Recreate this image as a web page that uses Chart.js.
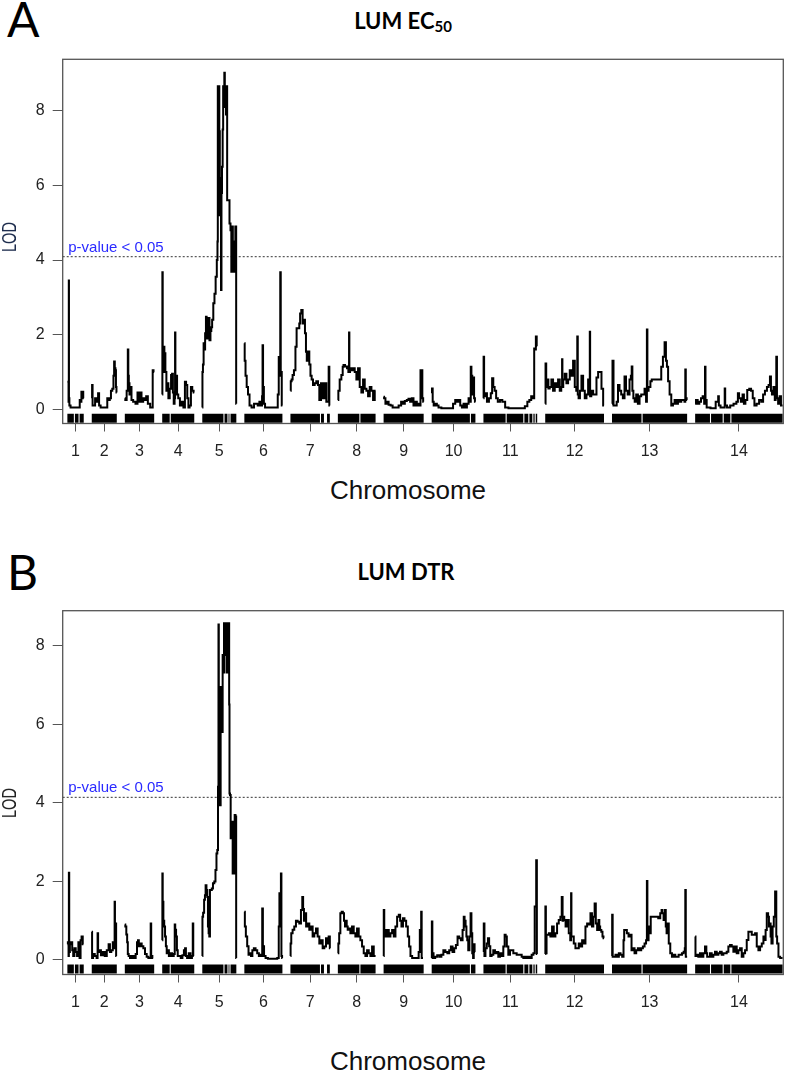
<!DOCTYPE html>
<html>
<head>
<meta charset="utf-8">
<title>LUM EC50 / LUM DTR LOD scans</title>
<script src="https://cdn.jsdelivr.net/npm/chart.js"></script>
<style>
  body { margin: 0; background: #fff; }
  #page { position: relative; width: 789px; height: 1072px; overflow: hidden; font-family: "Liberation Sans", Arial, sans-serif; color: #111; }
  .plot { position: absolute; left: 0; }
  .letter { position: absolute; font-family: Lato, "Open Sans", sans-serif; font-size: 48px; line-height: 1; color: #000; }
  .title { position: absolute; width: 240px; text-align: center; font-family: Lato, "Open Sans", sans-serif; font-weight: bold; font-size: 22px; line-height: 1; white-space: nowrap; color: #000; }
  .title sub { font-size: 15px; line-height: 0; vertical-align: -3px; }
  .xlab { position: absolute; width: 240px; text-align: center; font-size: 26px; line-height: 1; color: #111; }
  .ylab { position: absolute; font-size: 20px; line-height: 1; white-space: nowrap; transform: translate(-50%, -50%) rotate(-90deg) scaleX(0.73); }
</style>
</head>
<body>
<div id="page">
  <div class="letter" style="left:7px; top:-5px;">A</div>
  <div class="title" style="left:283px; top:10px;">LUM EC<sub>50</sub></div>
  <div class="plot" style="top:0;"><canvas id="chartA" width="789" height="470"></canvas></div>
  <div class="ylab" style="left:9px; top:237px; color:#1c2b4c;">LOD</div>
  <div class="xlab" style="left:288px; top:477px;">Chromosome</div>

  <div class="letter" style="left:7px; top:548px;">B</div>
  <div class="title" style="left:286px; top:561px;">LUM DTR</div>
  <div class="plot" style="top:540px;"><canvas id="chartB" width="789" height="480"></canvas></div>
  <div class="ylab" style="left:9px; top:803px; color:#222;">LOD</div>
  <div class="xlab" style="left:288px; top:1048px;">Chromosome</div>
</div>

<script>
// chromosomes and their lengths (cM), gap between them on the axis
const chromosomes = ['1', '2', '3', '4', '5', '6', '7', '8', '9', '10', '11', '12', '13', '14'];
const chrLengths = [49, 75, 88, 96, 102, 114, 118, 113, 120, 131, 161, 176, 225, 262];
const chrGap = 24;
const yTickValues = [0, 2, 4, 6, 8];

// 5% genome-wide thresholds
const ec50Threshold = 4.09;
const dtrThreshold = 4.14;

// places along each chromosome where the marker rug has a hole (cM)
const rugGaps = [[21, 35], [], [], [24], [65, 77, 83], [], [90, 102, 108], [66], [], [116], [68, 121, 136, 148, 155], [], [90], [46, 84, 107]];

// LOD profile, LUM EC50: [position in chromosome (cM), LOD] per chromosome
const ec50Lod = [
  [[0,0.74],[3,0.74],[4,0.2],[4.5,3.45],[5,0.3],[7,0.1],[12,0.05],[36,0.05],[38,0.25],[41,0.2],[43,0.47],[46,0.47],[49,0.3]],
  [[0,0.3],[2,0.65],[3,0.1],[8,0.1],[12,0.3],[17,0.2],[21,0.43],[23,0.1],[30,0.05],[45,0.05],[48,0.3],[52,0.25],[56,0.3],[59,0.5],[64,0.55],[66,0.9],[68,1.28],[70,1.1],[72,1.05],[73,0.6],[75,0.45]],
  [[0,0.3],[3,0.25],[8,0.5],[10,1.6],[11,0.9],[13,0.7],[15,0.4],[18,0.6],[22,0.25],[28,0.2],[36,0.15],[40,0.45],[43,0.2],[48,0.45],[52,0.2],[58,0.3],[62,0.25],[66,0.35],[72,0.15],[80,0.05],[83,0.05],[84,1.05],[88,1.0]],
  [[0,0.4],[1,3.67],[2,1.0],[5,1.68],[8,1.5],[11,1.0],[14,0.5],[17,0.7],[20,0.3],[25,0.55],[28,0.92],[31,0.95],[33,0.45],[36,0.15],[38,0.3],[39,2.06],[40,0.6],[43,0.9],[46,0.4],[50,0.3],[56,0.1],[61,0.2],[66,0.05],[70,0.74],[73,0.65],[77,0.3],[80,0.05],[84,0.1],[88,0.6],[92,0.5],[96,0.45]],
  [[0,0.05],[1,1.0],[3,1.2],[5,1.77],[7,1.6],[10,2.04],[12,2.48],[14,2.3],[15,1.9],[18,2.2],[20,2.45],[23,1.85],[26,2.1],[28,2.2],[31,2.4],[35,2.84],[38,3.1],[42,3.55],[45,4.0],[46,4.5],[47,8.66],[49,7.0],[50,8.66],[52,7.45],[53,5.2],[55,6.2],[57,3.2],[58,5.8],[60,6.5],[62,7.5],[63,8.66],[65,8.3],[67,9.02],[68,8.1],[70,8.66],[72,7.9],[74,8.66],[75,5.6],[80,5.6],[83,4.98],[86,4.8],[88,3.69],[90,4.9],[93,4.5],[95,3.69],[98,3.69],[100,4.9],[101,4.9],[102,0.15]],
  [[0,1.77],[2,1.3],[5,0.9],[9,0.6],[13,0.4],[18,0.1],[25,0.05],[33,0.15],[38,0.15],[42,0.1],[48,0.2],[52,0.1],[54,0.35],[55,1.72],[57,0.6],[60,0.15],[64,0.05],[90,0.05],[98,0.05],[102,0.4],[104,1.4],[107,0.9],[108,3.67],[110,1.0],[114,0.1]],
  [[0,0.5],[2,0.75],[5,0.8],[8,0.92],[13,1.05],[17,1.68],[20,2.17],[25,2.17],[28,2.3],[30,2.57],[35,2.66],[38,2.3],[42,2.4],[45,2.04],[48,1.54],[50,1.3],[55,1.55],[58,1.2],[62,0.9],[65,0.8],[70,0.65],[75,0.7],[80,0.75],[85,0.65],[88,0.25],[95,0.7],[100,0.3],[105,0.7],[110,0.2],[114,0.2],[115,1.14],[118,0.1]],
  [[0,0.25],[3,0.5],[8,0.8],[13,0.92],[16,1.14],[18,1.19],[25,1.15],[30,1.1],[33,1.0],[34,2.06],[35,1.0],[38,1.1],[43,1.05],[48,1.1],[53,1.0],[58,0.8],[63,1.1],[68,0.6],[73,0.45],[78,0.8],[83,0.55],[88,0.5],[93,0.35],[98,0.6],[103,0.5],[108,0.25],[113,0.5]],
  [[0,0.34],[3,0.3],[8,0.15],[12,0.2],[18,0.12],[24,0.1],[30,0.05],[40,0.05],[50,0.1],[55,0.2],[60,0.15],[67,0.22],[72,0.25],[77,0.28],[82,0.2],[87,0.3],[92,0.1],[97,0.2],[102,0.1],[107,0.15],[110,0.1],[111,1.05],[115,1.05],[117,0.3],[120,0.2]],
  [[0,0.43],[2,0.56],[4,0.2],[8,0.1],[13,0.15],[18,0.1],[23,0.05],[35,0.03],[60,0.03],[68,0.15],[73,0.25],[78,0.2],[83,0.25],[88,0.1],[93,0.05],[98,0.15],[103,0.05],[108,0.15],[113,0.3],[116,0.2],[118,1.14],[120,0.9],[123,0.4],[126,0.85],[128,0.3],[131,0.2]],
  [[0,0.3],[1,1.41],[3,0.35],[8,0.43],[13,0.2],[20,0.3],[24,0.43],[28,0.83],[31,0.6],[36,0.5],[40,0.3],[46,0.2],[53,0.25],[60,0.2],[70,0.05],[80,0.03],[120,0.03],[128,0.08],[135,0.2],[140,0.25],[146,0.35],[151,0.3],[153,1.63],[156,1.6],[158,1.95],[161,1.7]],
  [[0,0.15],[2,1.23],[4,0.6],[8,0.8],[11,0.56],[16,0.6],[21,0.8],[26,0.5],[31,0.7],[36,0.6],[41,0.8],[46,0.5],[50,0.6],[51,1.34],[52,0.6],[56,0.8],[61,0.95],[66,0.7],[71,0.8],[76,1.05],[81,0.9],[86,1.3],[91,0.6],[95,0.5],[97,1.95],[98,0.4],[102,0.3],[106,0.5],[111,0.9],[116,0.5],[121,0.3],[126,0.4],[131,0.8],[133,0.4],[134,2.08],[135,0.35],[141,0.5],[146,0.4],[151,0.4],[156,0.85],[161,1.0],[166,1.0],[171,0.55],[176,0.1]],
  [[0,0.15],[3,1.3],[6,0.1],[12,0.1],[16,0.2],[20,0.65],[25,0.5],[30,0.4],[35,0.3],[40,0.88],[44,0.5],[50,0.4],[55,0.8],[58,0.9],[60,1.15],[62,0.5],[66,0.3],[70,0.2],[75,0.4],[80,0.15],[85,0.35],[90,0.4],[95,0.4],[100,0.55],[104,0.2],[105,2.14],[107,0.5],[112,0.6],[118,0.75],[120,0.8],[125,0.8],[135,0.8],[145,0.8],[150,1.14],[155,1.41],[160,1.8],[163,1.3],[166,1.14],[170,0.75],[175,0.4],[180,0.1],[185,0.15],[190,0.25],[195,0.15],[200,0.25],[205,0.2],[210,0.25],[215,0.25],[219,0.2],[220,1.07],[222,0.3],[225,0.25]],
  [[0,0.15],[5,0.25],[10,0.15],[15,0.2],[20,0.3],[25,0.35],[29,0.15],[30,1.14],[32,0.25],[37,0.05],[55,0.03],[68,0.2],[70,0.35],[72,0.1],[80,0.05],[88,0.05],[89,0.56],[91,0.1],[100,0.05],[110,0.1],[120,0.15],[127,0.2],[129,0.43],[134,0.3],[140,0.2],[144,0.4],[148,0.15],[153,0.25],[159,0.52],[165,0.55],[170,0.5],[175,0.3],[180,0.1],[188,0.15],[195,0.25],[201,0.2],[206,0.4],[212,0.5],[218,0.6],[222,0.65],[226,0.88],[228,0.5],[232,0.4],[237,0.6],[240,0.25],[242,0.3],[244,1.41],[246,0.3],[251,0.15],[255,0.35],[259,0.1],[262,0.1]]
];

// LOD profile, LUM DTR
const dtrLod = [
  [[0,0.4],[3,0.45],[4,0.1],[5,2.22],[6,0.2],[9,0.4],[13,0.45],[16,0.25],[19,0.1],[23,0.3],[27,0.2],[31,0.1],[35,0.45],[38,0.05],[41,0.5],[44,0.6],[48,0.4]],
  [[0,0.72],[2,0.05],[6,0.15],[12,0.1],[17,0.05],[18,0.68],[20,0.2],[25,0.25],[30,0.12],[36,0.2],[42,0.1],[48,0.25],[53,0.4],[56,0.2],[61,0.25],[65,0.45],[68,0.3],[69,1.48],[70,0.9],[72,0.93],[74,0.1]],
  [[0,0.9],[3,0.85],[6,0.65],[8,0.45],[10,0.15],[13,0.1],[18,0.05],[25,0.1],[30,0.05],[35,0.15],[38,0.45],[41,0.5],[43,0.35],[48,0.42],[53,0.35],[58,0.3],[63,0.15],[68,0.08],[73,0.05],[77,0.05],[78,0.93],[80,0.1],[85,0.05]],
  [[0,0.5],[1,2.2],[2,1.48],[5,1.0],[7,0.85],[10,0.6],[12,0.35],[15,0.17],[18,0.25],[22,0.1],[27,0.17],[32,0.1],[37,0.15],[38,0.9],[40,0.77],[43,0.6],[45,0.25],[48,0.1],[53,0.1],[58,0.05],[63,0.12],[67,0.25],[70,0.3],[72,0.1],[77,0.05],[82,0.17],[87,0.05],[91,0.1],[92,0.93],[94,0.1]],
  [[0,0.1],[1,1.1],[4,1.2],[7,1.53],[9,1.65],[11,1.9],[14,1.78],[16,1.6],[18,0.85],[20,0.68],[22,0.6],[24,1.78],[27,1.78],[30,1.82],[34,1.95],[38,2.0],[41,2.29],[44,2.71],[46,2.8],[48,4.41],[49,8.54],[50,6.0],[52,4.2],[54,3.94],[56,6.95],[58,6.6],[60,5.8],[62,7.76],[64,7.32],[66,8.57],[70,8.57],[71,7.76],[74,7.32],[76,8.57],[80,8.57],[81,6.5],[82,4.24],[84,4.2],[86,3.1],[88,3.52],[90,3.52],[92,2.2],[96,2.2],[98,3.69],[101,3.65],[102,0.05]],
  [[0,1.23],[3,0.85],[6,0.6],[11,0.35],[14,0.13],[18,0.17],[22,0.1],[26,0.25],[31,0.3],[36,0.25],[41,0.17],[46,0.1],[51,0.13],[53,0.1],[54,1.31],[57,0.35],[61,0.1],[66,0.05],[75,0.03],[95,0.03],[102,0.05],[104,0.85],[106,1.7],[109,0.9],[110,2.2],[112,0.1],[114,0.05]],
  [[0,0.1],[1,0.42],[4,0.68],[9,0.77],[14,0.85],[19,1.0],[24,0.97],[29,0.93],[34,1.27],[37,1.6],[39,1.3],[42,1.0],[45,1.19],[49,0.85],[54,0.93],[59,0.77],[64,0.85],[69,0.6],[74,0.68],[79,0.8],[84,0.6],[89,0.42],[94,0.5],[99,0.3],[104,0.34],[109,0.55],[112,0.42],[117,0.6],[119,0.3]],
  [[0,0.17],[3,0.42],[5,0.68],[10,1.19],[13,1.23],[17,1.19],[20,1.0],[23,0.85],[25,1.0],[28,0.85],[31,0.77],[35,0.8],[40,0.68],[45,0.85],[50,0.68],[55,0.6],[60,0.8],[65,0.6],[70,0.5],[75,0.34],[80,0.17],[85,0.1],[90,0.25],[95,0.17],[100,0.1],[105,0.34],[110,0.1],[113,0.1]],
  [[0,0.1],[1,1.27],[3,0.6],[6,0.76],[10,0.6],[13,0.76],[18,0.6],[23,0.68],[28,0.76],[33,0.6],[38,0.85],[43,1.1],[48,1.15],[51,1.0],[56,0.85],[60,1.06],[65,1.0],[70,0.85],[75,0.6],[78,0.34],[83,0.1],[88,0.05],[95,0.05],[103,0.05],[107,0.2],[110,0.76],[112,0.6],[113,1.23],[115,0.05],[118,0.05]],
  [[0,0.05],[1,0.98],[3,0.17],[8,0.05],[13,0.08],[20,0.12],[26,0.08],[32,0.13],[38,0.25],[44,0.2],[50,0.17],[55,0.25],[60,0.34],[65,0.2],[70,0.3],[75,0.38],[80,0.6],[85,0.55],[90,0.5],[95,0.76],[97,1.1],[100,1.0],[103,0.85],[105,0.6],[108,0.5],[111,0.25],[115,0.6],[118,1.19],[120,0.68],[123,0.17],[125,0.05],[127,0.4],[130,0.2]],
  [[0,0.2],[2,0.93],[4,0.1],[8,0.3],[12,0.42],[15,0.55],[19,0.35],[22,0.1],[27,0.13],[32,0.25],[37,0.17],[42,0.2],[47,0.08],[52,0.17],[57,0.1],[62,0.34],[65,0.64],[68,0.6],[72,0.34],[77,0.13],[82,0.25],[87,0.25],[92,0.17],[97,0.17],[102,0.13],[107,0.13],[112,0.13],[117,0.08],[122,0.05],[127,0.08],[132,0.05],[137,0.08],[142,0.05],[147,0.13],[152,0.17],[155,1.36],[157,1.36],[159,2.54],[161,0.15]],
  [[0,0.15],[1,1.36],[3,0.17],[5,0.64],[9,0.64],[13,0.68],[18,0.6],[23,0.85],[28,0.6],[33,0.68],[38,0.93],[43,1.02],[48,1.1],[51,1.6],[53,1.0],[55,1.1],[59,1.02],[63,0.85],[68,1.02],[73,0.68],[77,0.5],[78,1.7],[79,0.6],[83,0.6],[88,0.42],[93,0.3],[98,0.3],[103,0.42],[108,0.34],[113,0.5],[118,0.42],[123,0.85],[128,0.93],[133,0.9],[138,1.19],[142,0.85],[146,1.1],[150,1.44],[153,0.93],[158,0.76],[161,1.02],[163,0.85],[166,0.76],[170,0.72],[173,0.6],[176,0.55]],
  [[0,0.1],[1,1.15],[3,0.08],[8,0.08],[13,0.13],[18,0.08],[23,0.17],[28,0.13],[33,0.08],[36,0.5],[37,0.76],[42,0.76],[47,0.68],[52,0.6],[57,0.64],[60,0.25],[65,0.3],[70,0.17],[75,0.25],[80,0.3],[85,0.25],[90,0.3],[95,0.34],[100,0.42],[104,0.5],[105,2.01],[107,0.5],[112,0.85],[115,0.68],[117,1.1],[125,1.1],[135,1.1],[142,1.06],[147,1.19],[150,1.27],[152,1.19],[157,1.02],[160,1.27],[162,0.85],[165,0.68],[168,0.93],[172,0.42],[177,0.17],[182,0.08],[187,0.13],[192,0.08],[197,0.08],[202,0.13],[207,0.13],[212,0.17],[217,0.21],[219,0.3],[220,1.78],[222,0.08],[225,0.08]],
  [[0,0.6],[2,0.1],[7,0.13],[12,0.08],[17,0.17],[22,0.08],[27,0.17],[32,0.34],[35,0.17],[37,0.08],[42,0.08],[47,0.17],[52,0.08],[57,0.13],[62,0.21],[67,0.13],[72,0.17],[77,0.21],[82,0.13],[87,0.17],[92,0.17],[97,0.21],[102,0.34],[107,0.38],[112,0.34],[117,0.21],[122,0.34],[127,0.17],[132,0.25],[137,0.3],[142,0.08],[147,0.17],[152,0.25],[157,0.51],[162,0.72],[167,0.72],[172,0.64],[177,0.64],[182,0.68],[187,0.34],[192,0.25],[197,0.34],[202,0.42],[207,0.6],[210,0.51],[212,0.76],[217,1.19],[220,1.1],[222,0.85],[225,0.93],[227,0.6],[230,0.42],[234,0.85],[237,1.1],[242,1.74],[244,0.6],[247,0.42],[252,0.08],[257,0.05],[262,0.05]]
];

// cumulative positions of the chromosomes on the x axis
const chrStarts = [];
let run = 0;
for (const len of chrLengths) {
  chrStarts.push(run);
  run += len + chrGap;
}
const xMin = -14;
const xMax = run - chrGap + 2;
const chrMids = chrStarts.map((s, i) => s + chrLengths[i] / 2);

// one point list for the whole genome, broken with nulls between chromosomes
function lodPoints(profile) {
  const pts = [];
  profile.forEach((chr, i) => {
    chr.forEach(([pos, lod]) => pts.push({ x: chrStarts[i] + pos, y: lod }));
    pts.push({ x: chrStarts[i] + chrLengths[i] + chrGap / 2, y: null });
  });
  return pts;
}

// marker rug under the curve: solid pieces between the holes
function rugPoints(y) {
  const pts = [];
  chrLengths.forEach((len, i) => {
    let from = 0;
    rugGaps[i].forEach(g => {
      pts.push({ x: chrStarts[i] + from, y: y }, { x: chrStarts[i] + g - 1.6, y: y }, { x: chrStarts[i] + g, y: null });
      from = g + 1.6;
    });
    pts.push({ x: chrStarts[i] + from, y: y }, { x: chrStarts[i] + len, y: y }, { x: chrStarts[i] + len + chrGap / 2, y: null });
  });
  return pts;
}

const boxPlugin = {
  id: 'plotBox',
  afterDraw(chart) {
    const { ctx, chartArea: a } = chart;
    ctx.save();
    ctx.strokeStyle = '#555';
    ctx.lineWidth = 1.3;
    ctx.strokeRect(a.left, a.top, a.right - a.left, a.bottom - a.top);
    ctx.restore();
  }
};

const thresholdLabel = {
  id: 'thresholdLabel',
  afterDatasetsDraw(chart, args, opts) {
    const { ctx, scales } = chart;
    ctx.save();
    ctx.font = '15px "Liberation Sans", Arial, sans-serif';
    ctx.fillStyle = '#2a2aff';
    ctx.textBaseline = 'alphabetic';
    ctx.fillText('p-value < 0.05', scales.x.getPixelForValue(xMin) + 5.5, scales.y.getPixelForValue(opts.value) - 5);
    ctx.restore();
  }
};

Chart.defaults.font.family = '"Liberation Sans", Arial, sans-serif';

function makeChart(id, profile, threshold, yMin, yMax, rugY, padTop, xAxisHeight) {
  const ctx = document.getElementById(id).getContext('2d');
  return new Chart(ctx, {
    type: 'line',
    data: {
      datasets: [
        {
          data: rugPoints(rugY),
          borderColor: '#000',
          borderWidth: 9,
          borderCapStyle: 'butt',
          pointRadius: 0,
          spanGaps: false
        },
        {
          data: lodPoints(profile),
          borderColor: '#000',
          borderWidth: 2,
          pointRadius: 0,
          stepped: 'middle',
          spanGaps: false
        },
        {
          data: [{ x: xMin, y: threshold }, { x: xMax, y: threshold }],
          borderColor: '#333',
          borderWidth: 1,
          borderDash: [2, 2],
          pointRadius: 0
        }
      ]
    },
    options: {
      responsive: false,
      animation: false,
      layout: { padding: { top: padTop, right: 5.7, left: 0, bottom: 0 } },
      plugins: {
        legend: { display: false },
        tooltip: { enabled: false },
        thresholdLabel: { value: threshold }
      },
      scales: {
        x: {
          type: 'linear',
          min: xMin,
          max: xMax,
          afterFit: (scale) => { scale.height = xAxisHeight; },
          afterBuildTicks: (scale) => { scale.ticks = chrMids.map(v => ({ value: v })); },
          ticks: {
            callback: (v, i) => chromosomes[i],
            autoSkip: false,
            maxRotation: 0,
            padding: 10,
            color: '#222',
            font: { size: 16 }
          },
          grid: { drawOnChartArea: false, tickLength: 8, color: '#555', lineWidth: 1 },
          border: { display: false }
        },
        y: {
          min: yMin,
          max: yMax,
          afterFit: (scale) => { scale.width = 62.7; },
          afterBuildTicks: (scale) => { scale.ticks = yTickValues.map(v => ({ value: v })); },
          ticks: { padding: 8, color: '#222', font: { size: 16 } },
          grid: { drawOnChartArea: false, tickLength: 10, color: '#555', lineWidth: 1 },
          border: { display: false }
        }
      }
    },
    plugins: [boxPlugin, thresholdLabel]
  });
}

makeChart('chartA', ec50Lod, ec50Threshold, -0.38, 9.38, -0.24, 59.3, 46.5);
makeChart('chartB', dtrLod, dtrThreshold, -0.37, 8.89, -0.23, 70.7, 45.5);
</script>
</body>
</html>
